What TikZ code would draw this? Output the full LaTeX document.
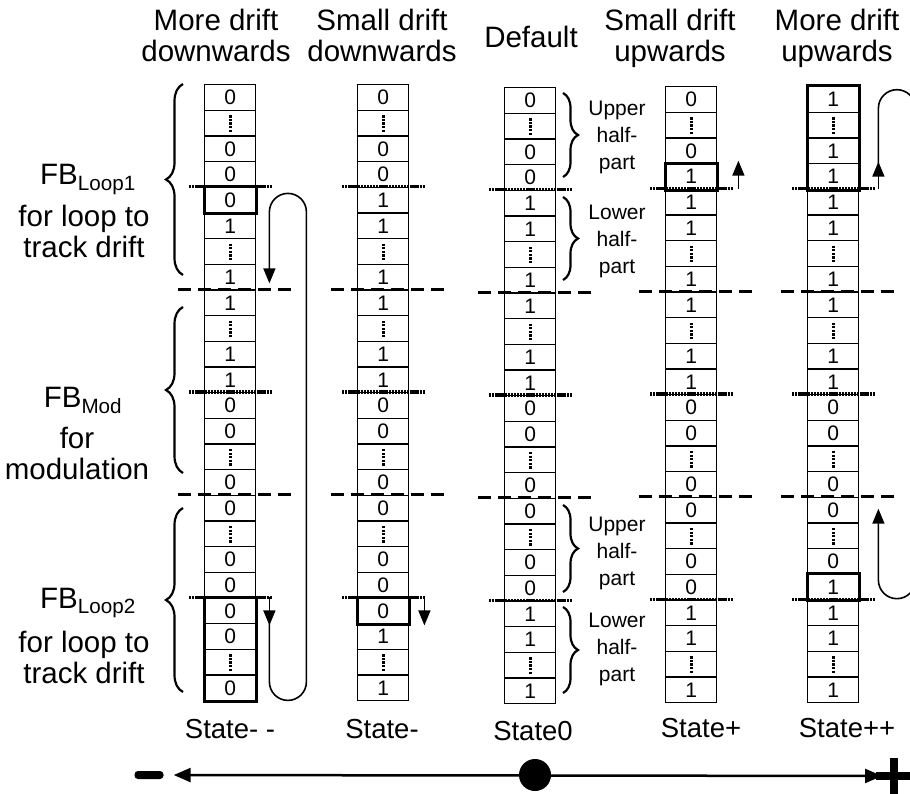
\documentclass[tikz,border=0pt]{standalone}
\usepackage{fontspec}
\setmainfont{Liberation Sans}
\usetikzlibrary{positioning,calc,arrows.meta,decorations.pathreplacing}

\tikzset{
  cell/.style={draw, line width=1.4pt, minimum width=51pt, minimum height=25.67pt,
    inner sep=0pt, anchor=north west, font=\fontsize{21}{21}\selectfont},
  hot/.style={draw, line width=3pt},
  halfline/.style={line width=3.2pt, dash pattern=on 2.3pt off 0.8pt},
  blockline/.style={line width=3.3pt, dash pattern=on 13pt off 7pt},
  celldots/.style={line width=3.2pt, dash pattern=on 2.3pt off 1.3pt},
  hdr/.style={align=center, anchor=base, font=\fontsize{29.5}{31}\selectfont},
  side/.style={align=center, anchor=base, font=\fontsize{29.5}{31}\selectfont},
  small/.style={align=center, anchor=base, font=\fontsize{21}{27}\selectfont},
  statelbl/.style={anchor=base, font=\fontsize{27.5}{30}\selectfont},
  bracel/.style={decorate, decoration={brace, amplitude=17pt}, line width=2.2pt},
  bracer/.style={decorate, decoration={brace, amplitude=15pt}, line width=2.2pt},
  loopline/.style={line width=1.6pt, -{Triangle[length=15pt,width=12pt]}},
}

\begin{document}
\begin{tikzpicture}[x=1pt, y=-1pt]
\useasboundingbox (0,0) rectangle (910,794);

\def\cellh{25.67}
% name, left x, top y, cell values (2 = vertical dots)
\def\cellcol#1#2#3#4{%
  \foreach \val [count=\i from 0] in {#4} {
    \node[cell] (#1-\i) at (#2, #3+\i*\cellh) {\ifnum\val<2 \raisebox{-2pt}{\val}\fi};
    \ifnum\val=2 \draw[celldots] ($(#1-\i.center)+(0,-8)$) -- ($(#1-\i.center)+(0,9)$); \fi
  }
}

\cellcol{minus2}{204}{84}{0,2,0,0,0,1,2,1,1,2,1,1,0,0,2,0,0,2,0,0,0,0,2,0}
\cellcol{minus1}{357}{84}{0,2,0,0,1,1,2,1,1,2,1,1,0,0,2,0,0,2,0,0,0,1,2,1}
\cellcol{zero}{504}{87}{0,2,0,0,1,1,2,1,1,2,1,1,0,0,2,0,0,2,0,0,1,1,2,1}
\cellcol{plus1}{665}{86}{0,2,0,1,1,1,2,1,1,2,1,1,0,0,2,0,0,2,0,0,1,1,2,1}
\cellcol{plus2}{807}{86}{1,2,1,1,1,1,2,1,1,2,1,1,0,0,2,0,0,2,0,1,1,1,2,1}

% bold cells
\draw[hot] (minus2-4.north west) rectangle (minus2-4.south east);
\draw[hot] (minus2-20.north west) rectangle (minus2-23.south east);
\draw[hot] (minus1-20.north west) rectangle (minus1-20.south east);
\draw[hot] (plus1-3.north west) rectangle (plus1-3.south east);
\draw[hot] (plus2-0.north west) rectangle (plus2-3.south east);
\draw[hot] (plus2-19.north west) rectangle (plus2-19.south east);

% half and block separators
\foreach \c in {minus2,minus1,zero,plus1,plus2} {
  \foreach \k in {4,12,20}
    \draw[halfline] ($(\c-\k.north west)+(-15,0)$) -- ($(\c-\k.north east)+(16,0)$);
  \foreach \k in {8,16}
    \draw[blockline] ($(\c-\k.north west)+(-26,0)$) -- ($(\c-\k.north east)+(40,0)$);
}

% headers
\node[hdr] (h1) at (216,62) {More drift\\downwards};
\node[hdr] (h2) at (382,62) {Small drift\\downwards};
\node[hdr] (h3) at (531,48) {Default};
\node[hdr] (h4) at (670,62) {Small drift\\upwards};
\node[hdr] (h5) at (837,62) {More drift\\upwards};

% left side
\draw[bracel] (183,275) -- (183,84);
\draw[bracel] (183,473) -- (183,307);
\draw[bracel] (183,692) -- (183,508);
\node[side] (fb1) at (88,185) {FB\textsubscript{Loop1}};
\node[side] (fb1txt) at (84,258) {for loop to\\track drift};
\node[side] (fbm) at (83,407) {FB\textsubscript{Mod}};
\node[side] (fbmtxt) at (77,479) {for\\modulation};
\node[side] (fb2) at (88,608) {FB\textsubscript{Loop2}};
\node[side] (fb2txt) at (84,683) {for loop to\\track drift};

% halves of the default state
\draw[bracer] (563,93) -- (563,177);
\draw[bracer] (563,197) -- (563,280);
\draw[bracer] (563,505) -- (563,592);
\draw[bracer] (563,607) -- (563,693);
\node[small] (upa) at (617,170) {Upper\\half-\\part};
\node[small] (loa) at (617,274) {Lower\\half-\\part};
\node[small] (upb) at (617,585) {Upper\\half-\\part};
\node[small] (lob) at (617,681) {Lower\\half-\\part};

% drift arrows
\coordinate (dn1) at ($(minus2-20.north east)+(13,0)$);
\coordinate (dn1end) at ($(minus2-8.north east)+(13,-6)$);
\draw[loopline] (dn1) -- ++(0,28);
\draw[loopline, rounded corners=18.5pt] ($(dn1)+(0,26)$) -- ++(0,77) -- ++(37,0) -- ++(0,-507) -- ++(-37,0) -- (dn1end);
\coordinate (dn2) at ($(minus1-20.north east)+(15,0)$);
\draw[loopline] (dn2) -- ++(0,28);
\coordinate (up1) at ($(plus1-4.north east)+(21,0)$);
\draw[loopline] (up1) -- ++(0,-28);
\coordinate (up2) at ($(plus2-4.north east)+(19,0)$);
\coordinate (up2end) at ($(plus2-16.north east)+(19,12)$);
\draw[loopline] (up2) -- ++(0,-27);
\draw[loopline, rounded corners=18.5pt] ($(up2)+(0,-25)$) -- ++(0,-74) -- ++(37,0) -- ++(0,509) -- ++(-37,0) -- (up2end);

% states
\node[statelbl] (s1) at (230,738) {State- -};
\node[statelbl] (s2) at (382,738) {State-};
\node[statelbl] (s3) at (533,740) {State0};
\node[statelbl] (s4) at (701,737) {State+};
\node[statelbl] (s5) at (847,737) {State++};

% axis
\node[fill, minimum width=29pt, minimum height=8pt, inner sep=0pt, rounded corners=3.5pt] (neg) at (149,775) {};
\node[minimum width=36pt, minimum height=36pt, inner sep=0pt] (pos) at (894,776) {};
\draw[line width=2.5pt, {Triangle[length=17pt,width=14pt]}-{Triangle[length=17pt,width=14pt]},
  shorten <=10pt, shorten >=12pt] (neg.east) -- (pos.center);
\node[circle, fill, minimum size=32pt, inner sep=0pt] (mid) at (535,775) {};
\draw[line width=8pt] (pos.west) -- (pos.east) (pos.north) -- (pos.south);
\end{tikzpicture}
\end{document}
